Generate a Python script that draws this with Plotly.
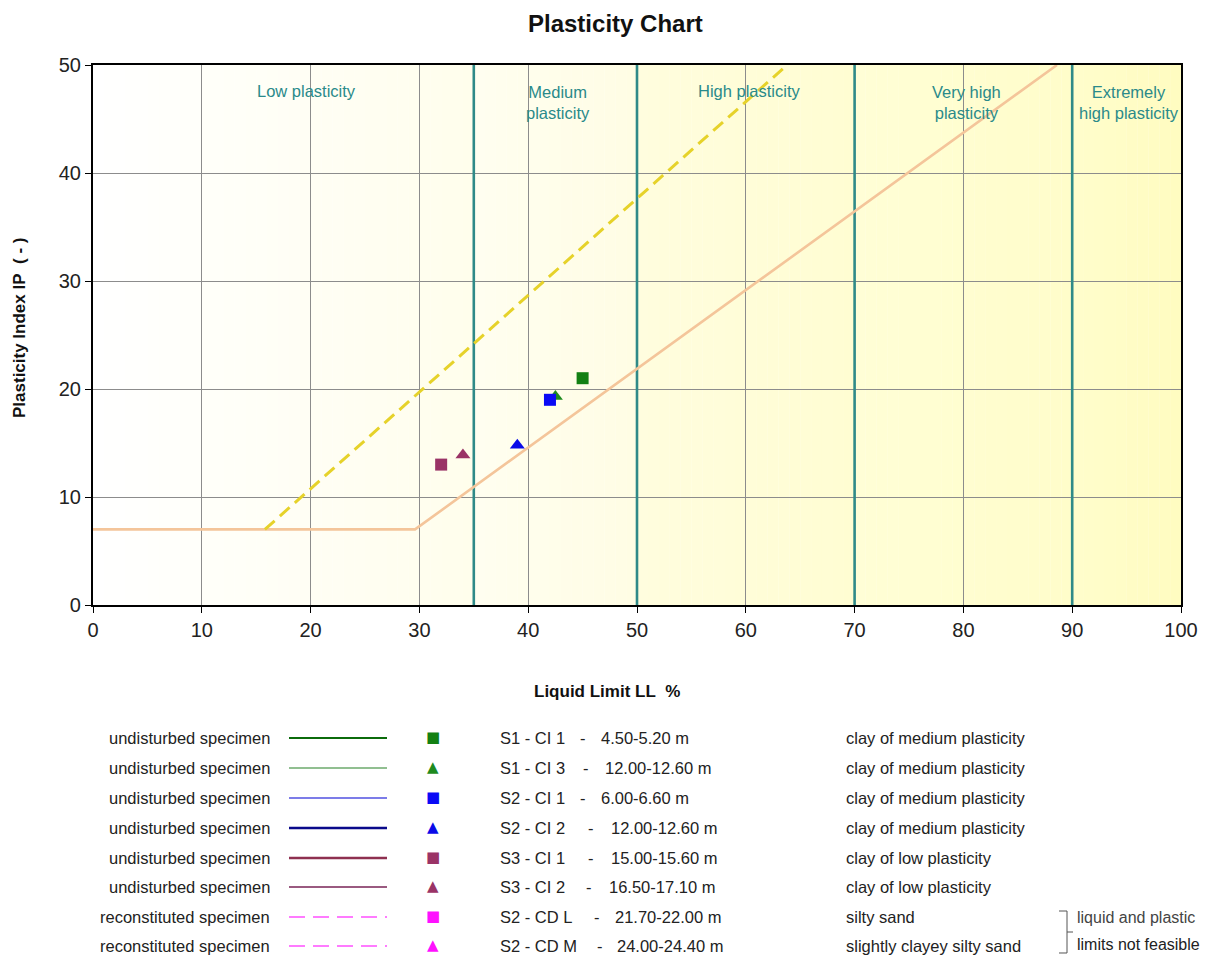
import plotly.graph_objects as go

# ---------------- data ----------------
zone_bounds = [35, 50, 70, 90]
zone_labels = ["Low plasticity", "Medium<br>plasticity", "High plasticity",
               "Very high<br>plasticity", "Extremely<br>high plasticity"]
zone_label_x = [19.6, 42.7, 60.3, 80.3, 95.2]
zone_label_y = [47.6, 46.5, 47.6, 46.5, 46.5]

a_line_x = [0, 29.6, 88.6]
a_line_y = [7, 7, 50]
u_line_x = [15.8, 63.8]
u_line_y = [7, 50]

sample_names = ["S1 - CI 1", "S1 - CI 3", "S2 - CI 1", "S2 - CI 2",
                "S3 - CI 1", "S3 - CI 2", "S2 - CD L", "S2 - CD M"]
sample_depths = ["4.50-5.20 m", "12.00-12.60 m", "6.00-6.60 m", "12.00-12.60 m",
                 "15.00-15.60 m", "16.50-17.10 m", "21.70-22.00 m", "24.00-24.40 m"]
specimen_types = ["undisturbed specimen"] * 6 + ["reconstituted specimen"] * 2
descriptions = ["clay of medium plasticity", "clay of medium plasticity",
                "clay of medium plasticity", "clay of medium plasticity",
                "clay of low plasticity", "clay of low plasticity",
                "silty sand", "slightly clayey silty sand"]
liquid_limit = [45.0, 42.5, 42.0, 39.0, 32.0, 34.0, None, None]
plasticity_index = [21.0, 19.3, 19.0, 14.8, 13.0, 13.9, None, None]

marker_symbols = ["square", "triangle-up", "square", "triangle-up",
                  "square", "triangle-up", "square", "triangle-up"]
marker_colors = ["#138013", "#1E8A1E", "#0A0AF5", "#0A0AE8",
                 "#9A3366", "#9A3366", "#FF10FF", "#FF10FF"]
line_colors = ["#0B6B0B", "#6DAA6D", "#5050E0", "#0A0A8A",
               "#8E3050", "#9A5A80", "#FF50FF", "#FF50FF"]
line_widths = [2.2, 1.6, 1.6, 2.6, 2.6, 1.8, 1.6, 1.6]
line_dashes = ["solid"] * 6 + ["dash", "dash"]

# ---------------- geometry helpers ----------------
OFF = 7  # page offset of the rendered figure
PL, PR, PT, PB = 92, 1180, 64, 604


def px(xp):
    return (xp - PL) / (PR - PL)


def py(yp):
    return (PB - yp) / (PB - PT)


fig = go.Figure()


def lerp(c1, c2, t):
    return tuple(int(round(a + (b - a) * t)) for a, b in zip(c1, c2))


zone_edges = [0] + zone_bounds + [100]
zone_cols = [((255, 255, 255), (255, 254, 236)),
             ((255, 254, 240), (255, 253, 228)),
             ((255, 253, 222), (255, 253, 210)),
             ((255, 254, 214), (255, 253, 202)),
             ((255, 253, 204), (255, 252, 192))]
shapes = []
for (x0, x1), (c0, c1) in zip(zip(zone_edges[:-1], zone_edges[1:]), zone_cols):
    n = int(x1 - x0)
    for i in range(n):
        c = lerp(c0, c1, (i + 0.5) / n)
        shapes.append(dict(type="rect", xref="x", yref="y", x0=x0 + i, x1=x0 + i + 1.02,
                           y0=0, y1=50, line=dict(width=0),
                           fillcolor="rgb(%d,%d,%d)" % c, layer="below"))

# zone boundary lines
for b in zone_bounds:
    fig.add_trace(go.Scatter(x=[b, b], y=[0, 50], mode="lines",
                             line=dict(color="#2F8A88", width=2.6),
                             hoverinfo="skip", showlegend=False))

# A-line and U-line
fig.add_trace(go.Scatter(x=a_line_x, y=a_line_y, mode="lines",
                         line=dict(color="#F4C59A", width=2.6),
                         showlegend=False, hoverinfo="skip"))
fig.add_trace(go.Scatter(x=u_line_x, y=u_line_y, mode="lines",
                         line=dict(color="#E6D22A", width=3, dash="13px,7px"),
                         showlegend=False, hoverinfo="skip"))

# data points
order = [1, 0, 2, 3, 4, 5]
for i in order:
    fig.add_trace(go.Scatter(x=[liquid_limit[i]], y=[plasticity_index[i]], mode="markers",
                             marker=dict(symbol=marker_symbols[i], color=marker_colors[i],
                                         size=12 if marker_symbols[i] == "square" else 13),
                             name=sample_names[i], showlegend=False))

annotations = []
for lbl, lx, ly in zip(zone_labels, zone_label_x, zone_label_y):
    annotations.append(dict(x=lx, y=ly, xref="x", yref="y", text=lbl, showarrow=False,
                            xanchor="center", yanchor="middle",
                            font=dict(family="Liberation Sans, Arial", size=16.5, color="#2A8A8A"),
                            align="center"))


def pann(xp, yp, text, font, xanchor="center", **kw):
    d = dict(x=px(xp), y=py(yp), xref="paper", yref="paper", text=text, showarrow=False,
             xanchor=xanchor, yanchor="middle", font=font)
    d.update(kw)
    annotations.append(d)


# title and axis titles
pann(614, 22, "<b>Plasticity Chart</b>",
     dict(family="Liberation Sans, Arial", size=24, color="#111"))
pann(606, 690, "<b>Liquid Limit LL\u00a0\u00a0%</b>",
     dict(family="Liberation Sans, Arial", size=17, color="#111"))
pann(18, 327, "<b>Plasticity Index IP\u00a0\u00a0( - )</b>",
     dict(family="Liberation Sans, Arial", size=17, color="#111"), textangle=-90)

# custom legend table
row_y = [737, 767, 797, 827, 857, 886, 916, 945]
dash_x = [582, 585, 582, 590, 590, 588, 596, 599]
depth_x = [598, 602, 598, 608, 608, 606, 612, 614]
lf = dict(family="Liberation Sans, Arial", size=16.5, color="#222")
for k in range(8):
    yy = py(row_y[k])
    pann(271, row_y[k], specimen_types[k], lf, xanchor="right")
    shapes.append(dict(type="line", xref="paper", yref="paper", x0=px(288), x1=px(386),
                       y0=yy, y1=yy,
                       line=dict(color=line_colors[k], width=line_widths[k],
                                 dash="16px,8px" if line_dashes[k] == "dash" else "solid")))
    ch = "\u25A0" if marker_symbols[k] == "square" else "\u25B2"
    pann(432, row_y[k] - 1, ch, dict(family="DejaVu Sans", size=15, color=marker_colors[k]))
    pann(497, row_y[k], sample_names[k], lf, xanchor="left")
    pann(dash_x[k], row_y[k], "-", lf, xanchor="center")
    pann(depth_x[k], row_y[k], sample_depths[k], lf, xanchor="left")
    pann(843, row_y[k], descriptions[k], lf, xanchor="left")

# bracket and note
shapes.append(dict(type="path", xref="paper", yref="paper",
                   path="M %f %f L %f %f L %f %f L %f %f" % (px(1058), py(910), px(1066), py(910),
                                                             px(1066), py(952), px(1058), py(952)),
                   line=dict(color="#555", width=1)))
shapes.append(dict(type="line", xref="paper", yref="paper", x0=px(1066), x1=px(1072),
                   y0=py(931), y1=py(931), line=dict(color="#555", width=1)))
pann(1074, 917, "liquid and plastic",
     dict(family="Liberation Sans, Arial", size=16, color="#444"), xanchor="left")
pann(1074, 943, "limits not feasible",
     dict(family="Liberation Sans, Arial", size=16, color="#222"), xanchor="left")

fig.update_layout(
    width=1212, height=958,
    margin=dict(l=PL - OFF, r=1212 - PR + OFF, t=PT - OFF, b=958 - PB + OFF),
    paper_bgcolor="white", plot_bgcolor="white",
    shapes=shapes, annotations=annotations, showlegend=False,
    xaxis=dict(range=[0, 100], tickvals=list(range(0, 101, 10)), showgrid=True,
               gridcolor="#8C8C8C", gridwidth=1, showline=True, linecolor="black",
               linewidth=2.2, mirror=True, ticks="outside", ticklen=6, tickcolor="black",
               tickfont=dict(family="Liberation Sans, Arial", size=20, color="#222"),
               zeroline=False, fixedrange=True),
    yaxis=dict(range=[0, 50], tickvals=list(range(0, 51, 10)), showgrid=True,
               gridcolor="#8C8C8C", gridwidth=1, showline=True, linecolor="black",
               linewidth=2.2, mirror=True, ticks="outside", ticklen=6, tickcolor="black",
               tickfont=dict(family="Liberation Sans, Arial", size=20, color="#222"),
               zeroline=False, fixedrange=True),
)

fig.write_html("out.html")
